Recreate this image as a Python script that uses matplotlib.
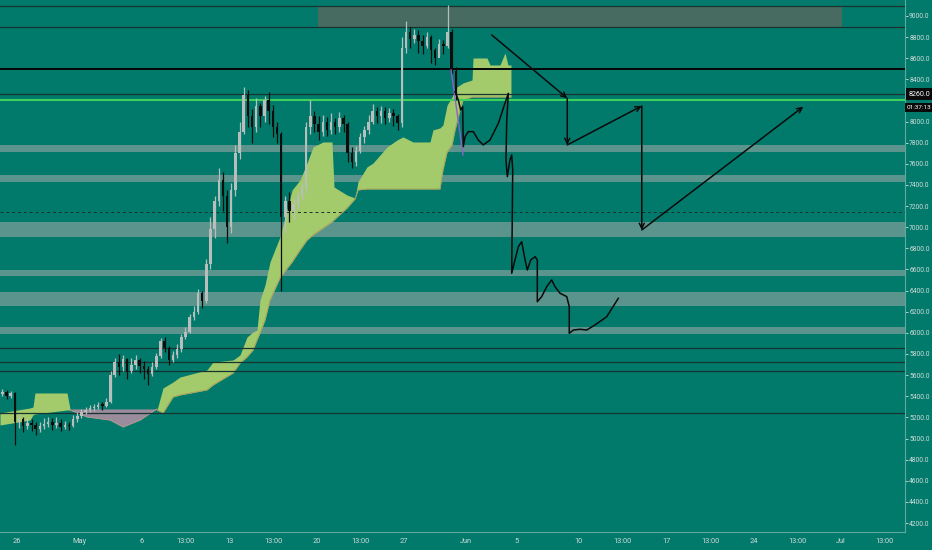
import numpy as np
import matplotlib.pyplot as plt

plt.rcParams['font.family'] = ['Roboto', 'DejaVu Sans']

# candle 8 jam, hari 0 = 26 Apr, candle pertama mulai hari -4/3
t0 = -4 / 3
open_first = 5420
close = [5440,
         5400, 5430, 5160,
         5180, 5120, 5150,
         5130, 5090, 5120,
         5140, 5160, 5130,
         5150, 5110, 5130,
         5120, 5180, 5210,
         5250, 5270, 5290,
         5300, 5320, 5310,
         5350, 5600, 5720,
         5680, 5750, 5640,
         5700, 5740, 5690,
         5660, 5610, 5680,
         5780, 5920, 5860,
         5740, 5790, 5850,
         5960, 6010, 6150,
         6200, 6380, 6300,
         6650, 6980, 7250,
         7450, 7300, 7000,
         7350, 7700, 7900,
         8250, 8050, 7950,
         8150, 8050, 8200,
         8100, 7950, 7880,
         7100, 7250, 7150,
         7220, 7300, 7380,
         7950, 8050, 7980,
         7900, 8000, 7920,
         8000, 7950, 8030,
         7980, 7700, 7620,
         7720, 7850, 7920,
         8000, 8100, 8050,
         8100, 8030, 8080,
         8050, 7990, 8700,
         8850, 8780, 8820,
         8760, 8720, 8800,
         8680, 8600, 8730,
         8720, 8850, 8480,
         8260]
high = [5470,
        5460, 5450, 5440,
        5230, 5200, 5190,
        5180, 5160, 5160,
        5190, 5200, 5190,
        5200, 5180, 5170,
        5160, 5220, 5250,
        5280, 5300, 5320,
        5330, 5350, 5350,
        5380, 5640, 5760,
        5800, 5790, 5760,
        5760, 5790, 5760,
        5730, 5690, 5720,
        5810, 5950, 5960,
        5880, 5830, 5890,
        5990, 6060, 6180,
        6250, 6420, 6400,
        6700, 7100, 7300,
        7560, 7520, 7350,
        7420, 7780, 8000,
        8330, 8300, 8120,
        8220, 8180, 8240,
        8280, 8160, 8000,
        7900, 7300, 7330,
        7280, 7330, 7420,
        8000, 8200, 8100,
        8050, 8060, 8040,
        8080, 8030, 8090,
        8060, 8000, 7760,
        7770, 7890, 7960,
        8060, 8170, 8140,
        8150, 8140, 8130,
        8120, 8070, 8800,
        8950, 8900, 8880,
        8870, 8820, 8850,
        8820, 8700, 8780,
        8770, 9100, 8880,
        8520]
low = [5400,
       5370, 5380, 4940,
       5100, 5060, 5090,
       5070, 5030, 5060,
       5090, 5110, 5080,
       5100, 5070, 5090,
       5080, 5110, 5160,
       5190, 5230, 5250,
       5260, 5280, 5270,
       5300, 5340, 5580,
       5600, 5640, 5560,
       5620, 5660, 5620,
       5560, 5510, 5590,
       5660, 5760, 5820,
       5700, 5720, 5760,
       5820, 5940, 6000,
       6120, 6180, 6240,
       6280, 6600, 6900,
       7200, 7150, 6850,
       6950, 7300, 7650,
       7880, 7950, 7800,
       7900, 7950, 8000,
       7980, 7850, 7800,
       6400, 6950, 7050,
       7080, 7170, 7260,
       7320, 7880, 7900,
       7830, 7860, 7860,
       7880, 7880, 7900,
       7900, 7620, 7560,
       7580, 7700, 7800,
       7880, 7980, 7990,
       7990, 7980, 8000,
       7960, 7920, 7950,
       8650, 8700, 8740,
       8650, 8640, 8700,
       8550, 8540, 8620,
       8640, 8700, 8450,
       8200]

# awan ichimoku (hari, batas atas, batas bawah)
green1_days = [-1.36, 1.04, 1.28, 1.44, 4.01, 4.25]
green1_upper = [5242, 5289, 5298, 5431, 5431, 5280]
green1_lower = [5128, 5175, 5223, 5232, 5270, 5270]

purple_days = [4.25, 5.61, 7.45, 8.49, 9.86, 11.06, 11.22]
purple_upper = [5280, 5280, 5280, 5280, 5280, 5280, 5280]
purple_lower = [5270, 5204, 5175, 5109, 5175, 5270, 5280]

green2_days = [11.22, 11.70, 12.50, 13.06, 15.22, 15.71, 17.31, 17.87, 18.43, 18.91,
               19.23, 19.47, 19.87, 20.27, 21.07, 22.04, 22.68, 23.24, 23.72, 24.52,
               25.24, 25.40, 26.44, 27.08, 27.32, 28.04, 28.53, 29.65, 30.45, 30.93,
               31.73, 33.09, 33.33, 33.89, 34.13, 34.46, 34.86, 35.10, 35.50, 35.74,
               36.46, 36.54, 37.66, 37.90, 38.70, 39.10, 39.34, 39.58]
green2_upper = [5270, 5478, 5535, 5582, 5649, 5724, 5743, 5791, 5961, 6008,
                6027, 6311, 6453, 6671, 6908, 7353, 7447, 7608, 7760, 7807,
                7807, 7381, 7305, 7277, 7429, 7571, 7608, 7760, 7826, 7855,
                7807, 7807, 7921, 7940, 7968, 8157, 8233, 8318, 8347, 8366,
                8394, 8602, 8602, 8536, 8536, 8650, 8536, 8536]
green2_lower = [5270, 5242, 5393, 5412, 5460, 5507, 5620, 5715, 5772, 5838,
                5933, 5999, 6122, 6311, 6520, 6671, 6785, 6879, 6927, 6993,
                7050, 7069, 7182, 7268, 7353, 7362, 7362, 7362, 7362, 7362,
                7362, 7362, 7362, 7362, 7542, 7712, 7779, 7921, 8110, 8205,
                8233, 8233, 8233, 8233, 8233, 8233, 8233, 8233]

# garis dan zona horizontal
dark_lines = [9095, 8896, 8262, 5857, 5724, 5639, 5242]
black_line = 8500
green_line = 8205
dashed_line = 7145
grey_zones = [(7712, 7779), (7428, 7495), (6908, 7050), (6539, 6595), (6255, 6387), (5990, 6056)]
top_zone = (24.1, 66.1, 8896, 9085)

# gambar tangan (proyeksi)
sketch_days = [35.10, 35.36, 35.55, 35.71, 35.76, 35.90, 36.16, 36.56, 36.96, 37.36,
               37.90, 38.57, 39.10, 39.37, 39.24, 39.18, 39.29, 39.50, 39.64, 39.72,
               39.64, 39.90, 40.17, 40.44, 40.71, 40.89, 41.16, 41.51, 41.69, 41.69,
               42.04, 42.44, 42.84, 43.11, 43.51, 44.05, 44.25, 44.25, 44.58, 45.11,
               45.65, 46.31, 47.25, 48.18]
sketch_price = [8283, 8205, 8110, 8141, 7763, 7857, 7905, 7905, 7826, 7779,
                7826, 7984, 8174, 8268, 8015, 7637, 7479, 7637, 7684, 7542,
                6564, 6690, 6816, 6863, 6690, 6595, 6690, 6721, 6690, 6295,
                6343, 6437, 6501, 6437, 6375, 6343, 6248, 5996, 6027, 6034,
                6027, 6075, 6153, 6327]
arrow_days = [38.04, 44.09, 44.09, 50.06, 50.06, 63.00]
arrow_price = [8820, 8221, 7779, 8148, 6974, 8141]
purple_days_line = [34.78, 35.74]
purple_price_line = [8489, 7684]

xtick_days = [0, 5, 10, 13.54, 17, 20.54, 24, 27.54, 31, 36, 40, 45, 48.54, 52, 55.54, 59, 62.54, 66, 69.54]
xtick_labels = ['26', 'May', '6', '13:00', '13', '13:00', '20', '13:00', '27', 'Jun', '5', '10',
                '13:00', '17', '13:00', '24', '13:00', 'Jul', '13:00']
last_price = 8260
countdown = '01:37:13'

bg = '#017a6c'
txt = '#cfdcd9'

fig = plt.figure(figsize=(9.32, 5.5), dpi=100, facecolor=bg)
ax = fig.add_axes([0, 18 / 550, 905 / 932, 532 / 550], facecolor=bg)
ax.set_xlim(-1.36, 71.15)
ax.set_ylim(4115, 9151)

# zona
ax.fill_between([top_zone[0], top_zone[1]], top_zone[2], top_zone[3], color='#476a61', lw=0, zorder=1)
for lo, hi in grey_zones:
    ax.axhspan(lo, hi, color='#5b948c', lw=0, zorder=1)

# awan
ax.fill_between(green1_days, green1_lower, green1_upper, color='#a3cb6b', lw=0, zorder=2)
ax.fill_between(purple_days, purple_lower, purple_upper, color='#9a8c9c', lw=0, zorder=2)
ax.fill_between(green2_days, green2_lower, green2_upper, color='#a3cb6b', lw=0, zorder=2)
ax.plot(green2_days, green2_lower, color='#b39a5a', lw=0.6, zorder=2)
ax.plot(purple_days, purple_lower, color='#b39a8a', lw=0.6, zorder=2)

# garis horizontal
for p in dark_lines:
    ax.axhline(p, color='#17332f', lw=0.9, zorder=3)
ax.axhline(black_line, color='#050505', lw=1.4, zorder=3)
ax.axhline(green_line, color='#3ed05a', lw=1.5, zorder=3)
ax.axhline(dashed_line, color='#17332f', lw=0.7, ls=(0, (3, 3)), zorder=3)

# candle
opens = [open_first] + close[:-1]
xs = [t0 + i / 3 + 1 / 6 for i in range(len(close))]
for x, o, c, h, l in zip(xs, opens, close, high, low):
    col = '#b8bebc' if c >= o else '#0c0c0c'
    ax.vlines(x, l, h, color=col, lw=0.9, zorder=4)
    ax.bar(x, max(abs(c - o), 12), bottom=min(o, c), width=0.2, color=col, lw=0, zorder=4)

# gambar tangan
ax.plot(purple_days_line, purple_price_line, color='#8c62d0', lw=1.0, zorder=5)
ax.plot(sketch_days, sketch_price, color='#0a0a0a', lw=1.1, zorder=5)
for i in range(len(arrow_days) - 1):
    ax.annotate('', xy=(arrow_days[i + 1], arrow_price[i + 1]), xytext=(arrow_days[i], arrow_price[i]),
                arrowprops=dict(arrowstyle='->', color='#0a0a0a', lw=1.1, mutation_scale=9,
                                shrinkA=0, shrinkB=0), zorder=5)

# sumbu
ax.yaxis.tick_right()
yt = [v for v in range(4200, 9001, 200) if v != 8200]
ax.set_yticks(yt)
ax.set_yticklabels([f'{v:.1f}' for v in yt])
ax.set_xticks(xtick_days)
ax.set_xticklabels(xtick_labels)
ax.tick_params(axis='y', colors=txt, labelsize=4.9, length=2, width=0.6, pad=1)
ax.tick_params(axis='x', colors=txt, labelsize=5.3, length=0, pad=4)
for s in ['top', 'left']:
    ax.spines[s].set_visible(False)
for s in ['right', 'bottom']:
    ax.spines[s].set_color('#5fa99e')
    ax.spines[s].set_linewidth(0.8)

ax.text(1.004, last_price, f'{last_price:.1f}', transform=ax.get_yaxis_transform(), color='white',
        fontsize=5.1, va='center', ha='left', clip_on=False,
        bbox=dict(boxstyle='square,pad=0.35', fc='#0a0a0a', ec='none'), zorder=10)
ax.text(1.002, last_price - 125, countdown, transform=ax.get_yaxis_transform(), color='white',
        fontsize=4.6, va='center', ha='left', clip_on=False,
        bbox=dict(boxstyle='square,pad=0.3', fc='#0a0a0a', ec='none'), zorder=10)

fig.savefig('out.png', dpi=100, facecolor=bg)
